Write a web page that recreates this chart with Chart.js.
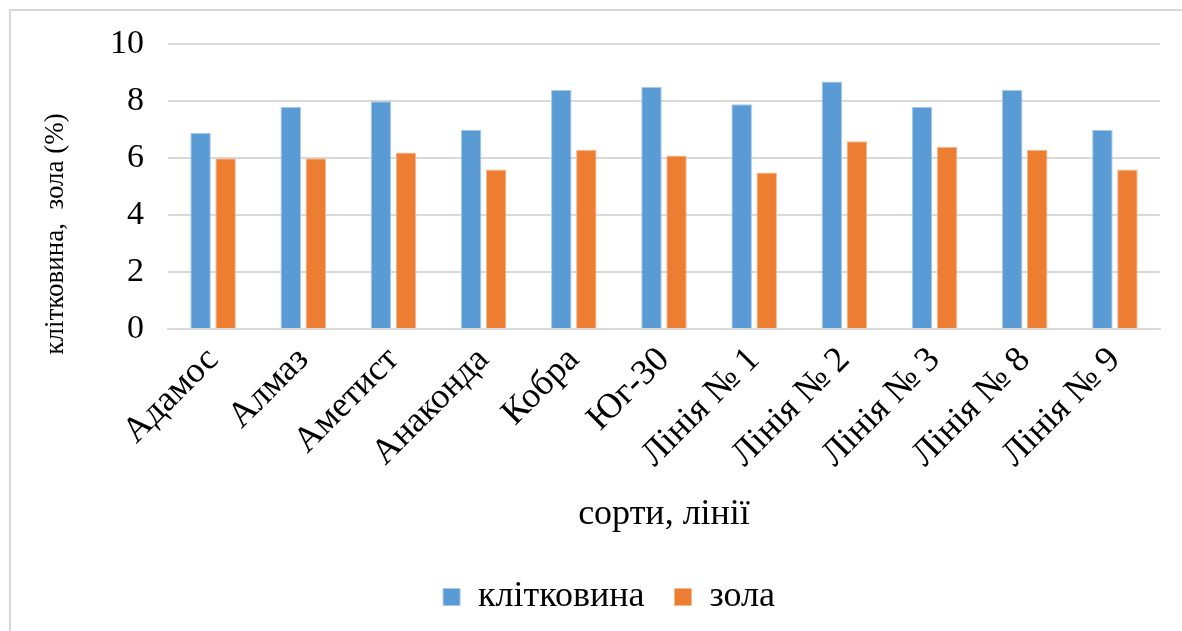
<!DOCTYPE html>
<html>
<head>
<meta charset="utf-8">
<script src="https://cdn.jsdelivr.net/npm/chart.js@4"></script>
<style>
  html, body { margin: 0; padding: 0; background: #fff; overflow: hidden; }
  .frame { position: absolute; left: 9px; top: 9px; width: 1200px; height: 700px; border: 2px solid #d9d9d9; box-sizing: border-box; }
  .wrap { position: absolute; left: 0; top: 0; width: 1182px; height: 631px; }
</style>
</head>
<body>
<div class="frame"></div>
<div class="wrap"><canvas id="chart" width="1182" height="631"></canvas></div>
<script>
// sorts / lines
const categories = ['Адамос', 'Алмаз', 'Аметист', 'Анаконда', 'Кобра', 'Юг-30',
  'Лінія № 1', 'Лінія № 2', 'Лінія № 3', 'Лінія № 8', 'Лінія № 9'];
const fibre = [6.9, 7.8, 8.0, 7.0, 8.4, 8.5, 7.9, 8.7, 7.8, 8.4, 7.0];
const ash   = [6.0, 6.0, 6.2, 5.6, 6.3, 6.1, 5.5, 6.6, 6.4, 6.3, 5.6];
const yTicks = [0, 2, 4, 6, 8, 10];

const serif = "'Liberation Serif', 'Times New Roman', serif";
Chart.defaults.font.family = serif;
Chart.defaults.color = '#000';

// nudge the legend a bit to the right, like the original
const legendShift = {
  id: 'legendShift',
  beforeDraw(chart) {
    const lg = chart.legend;
    if (lg && !lg.__shifted) { lg.left += 24; lg.right += 24; lg.__shifted = true; }
  },
  afterLayout(chart) { if (chart.legend) chart.legend.__shifted = false; }
};

new Chart(document.getElementById('chart'), {
  type: 'bar',
  data: {
    labels: categories,
    datasets: [
      { label: 'клітковина', data: fibre, backgroundColor: '#5b9bd5', borderColor: '#a9c9ec', borderWidth: 1,
        categoryPercentage: 0.555, barPercentage: 0.82 },
      { label: 'зола', data: ash, backgroundColor: '#ed7d31', borderColor: '#f6b98f', borderWidth: 1,
        categoryPercentage: 0.555, barPercentage: 0.82 }
    ]
  },
  options: {
    responsive: false,
    animation: false,
    layout: { padding: { left: 10, top: 36, right: 22, bottom: 6 } },
    plugins: {
      legend: {
        position: 'bottom',
        labels: { font: { size: 36 }, boxWidth: 17, boxHeight: 17, padding: 30, color: '#000' }
      },
      tooltip: { enabled: false }
    },
    scales: {
      x: {
        grid: { display: false, drawTicks: false },
        border: { color: '#d9d9d9', width: 2 },
        ticks: { font: { size: 36 }, minRotation: 45, maxRotation: 45, padding: 10, color: '#000' },
        title: { display: true, text: 'сорти, лінії', font: { size: 36 }, padding: { top: 0, bottom: 13 }, color: '#000' },
        afterFit: s => { s.height = 220; }
      },
      y: {
        min: 0, max: 10,
        afterBuildTicks: s => { s.ticks = yTicks.map(v => ({ value: v })); },
        grid: { color: '#d9d9d9', lineWidth: 2, drawTicks: false },
        border: { display: false },
        // tick padding also sets the top gap of the plot area
        ticks: { font: { size: 34 }, padding: 24, color: '#000' },
        title: { display: true, text: 'клітковина,  зола (%)              ', font: { size: 27 }, padding: { top: 30, bottom: 0 }, color: '#000' },
        afterFit: s => { s.width = 158; }
      }
    }
  },
  plugins: [legendShift]
});
</script>
</body>
</html>
